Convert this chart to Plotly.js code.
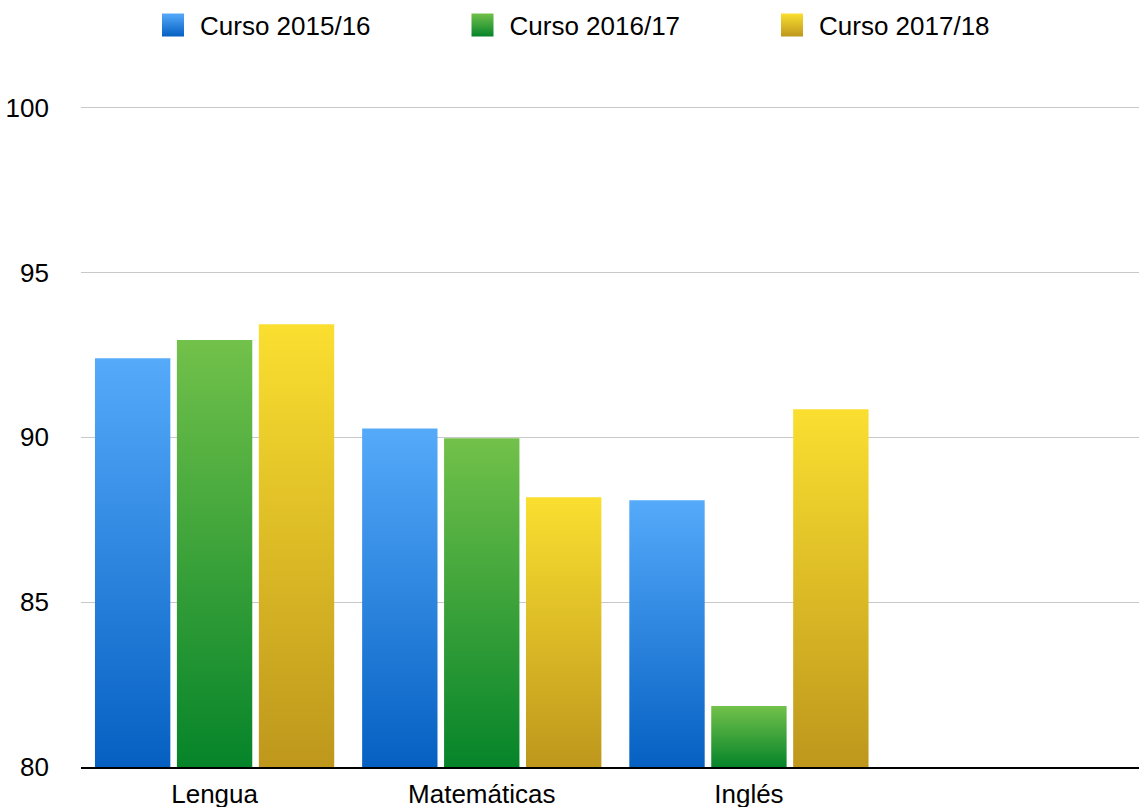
<!DOCTYPE html>
<html>
<head>
<meta charset="utf-8">
<script src="https://cdn.plot.ly/plotly-3.0.1.min.js"></script>
<style>html,body{margin:0;padding:0;background:#fff;}#chart{width:1139px;height:807px;}</style>
</head>
<body>
<div id="chart"></div>
<script>
const categories = ['Lengua', 'Matemáticas', 'Inglés'];
const seriesNames = ['Curso 2015/16', 'Curso 2016/17', 'Curso 2017/18'];
const curso201516 = [92.4, 90.27, 88.09];
const curso201617 = [92.95, 89.97, 81.85];
const curso201718 = [93.43, 88.18, 90.85];
const yTicks = [80, 85, 90, 95, 100];

const gradTop = ['#55AAFA', '#72C14A', '#FADF30'];
const gradBot = ['#0560C2', '#06842A', '#BE971C'];
const solid = ['#2B85DE', '#3BA43A', '#DCBC27'];
const seriesValues = [curso201516, curso201617, curso201718];

const traces = seriesValues.map((vals, i) => ({
  type: 'bar',
  name: seriesNames[i],
  x: categories,
  y: vals,
  marker: {color: solid[i], line: {width: 0}},
  hoverinfo: 'none'
}));

const font = {family: '"Liberation Sans", Arial, Helvetica, sans-serif', size: 26, color: '#000'};

const layout = {
  width: 1139, height: 807,
  margin: {l: 81, r: 0, t: 106, b: 40},
  paper_bgcolor: '#fff', plot_bgcolor: '#fff',
  font: font,
  barmode: 'group',
  bargap: 0.08,
  bargroupgap: 0.08,
  showlegend: true,
  legend: {
    orientation: 'h',
    x: (160 - 81) / 1058, xanchor: 'left',
    y: 1 + 81 / 661, yanchor: 'middle',
    font: font,
    entrywidth: 264.5, entrywidthmode: 'pixels',
    traceorder: 'normal',
    itemclick: false, itemdoubleclick: false
  },
  xaxis: {
    type: 'category',
    range: [-0.5, 3.46],
    showgrid: false,
    showline: true, linecolor: '#000', linewidth: 2,
    ticks: '', tickfont: font,
    ticklabelstandoff: 3,
    fixedrange: true
  },
  yaxis: {
    range: [80, 100.05],
    tickvals: yTicks,
    ticktext: yTicks.map(String),
    showgrid: true, gridcolor: '#c8c8c8', gridwidth: 1,
    zeroline: false, showline: false,
    ticks: '', tickfont: font,
    ticklabelstandoff: 31,
    fixedrange: true
  }
};

Plotly.newPlot('chart', traces, layout, {displayModeBar: false, staticPlot: true}).then(gd => {
  const svg = gd.querySelector('svg.main-svg');
  const ns = 'http://www.w3.org/2000/svg';
  const defs = svg.querySelector('defs');
  const plotH = gd._fullLayout._size.h;
  function makeGrad(id, i, userSpace, y1, y2) {
    const lg = document.createElementNS(ns, 'linearGradient');
    lg.setAttribute('id', id);
    if (userSpace) lg.setAttribute('gradientUnits', 'userSpaceOnUse');
    lg.setAttribute('x1', '0'); lg.setAttribute('y1', String(y1));
    lg.setAttribute('x2', '0'); lg.setAttribute('y2', String(y2));
    const s1 = document.createElementNS(ns, 'stop');
    s1.setAttribute('offset', '0'); s1.setAttribute('stop-color', gradTop[i]);
    const s2 = document.createElementNS(ns, 'stop');
    s2.setAttribute('offset', '1'); s2.setAttribute('stop-color', gradBot[i]);
    lg.appendChild(s1); lg.appendChild(s2);
    defs.appendChild(lg);
  }
  const barTraces = gd.querySelectorAll('.barlayer .trace');
  barTraces.forEach((t, i) => {
    t.querySelectorAll('path').forEach((p, j) => {
      const bb = p.getBBox();
      const id = 'gb' + i + '_' + j;
      makeGrad(id, i, true, bb.y, plotH);
      p.style.fill = 'url(#' + id + ')';
    });
  });
  const legTraces = gd.querySelectorAll('.legend .traces');
  legTraces.forEach((t, i) => {
    makeGrad('gl' + i, i, false, 0, 1);
    t.querySelectorAll('.legendpoints path').forEach(p => {
      p.setAttribute('d', 'M4,11.5H-18V-11.5H4Z');
      p.style.fill = 'url(#gl' + i + ')';
      p.style.stroke = 'none';
    });
  });
});
</script>
</body>
</html>
